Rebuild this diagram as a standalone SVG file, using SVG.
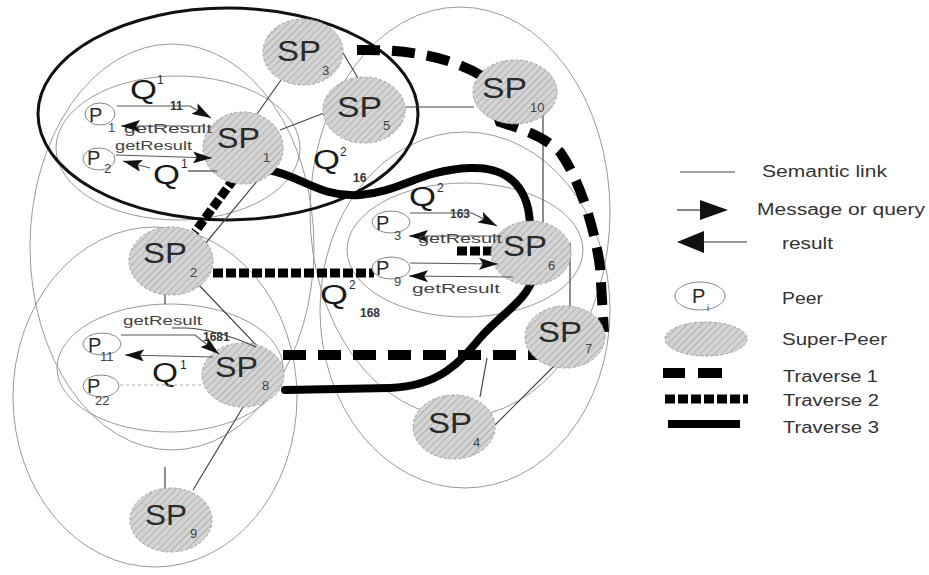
<svg xmlns="http://www.w3.org/2000/svg" width="929" height="575" viewBox="0 0 929 575">
  <defs>
    <pattern id="hatch" patternUnits="userSpaceOnUse" width="5" height="5" patternTransform="rotate(45)">
      <rect width="5" height="5" fill="#d4d4d4"/>
      <line x1="0" y1="0" x2="0" y2="5" stroke="#8c8c8c" stroke-width="1"/>
    </pattern>
    <marker id="head" viewBox="0 0 10 10" refX="10" refY="5" markerUnits="userSpaceOnUse" markerWidth="19" markerHeight="12" preserveAspectRatio="none" orient="auto">
      <path d="M0,0 L10,5 L0,10 L2,5 z" fill="#111"/>
    </marker>
  </defs>
  <style>
    .region { fill: none; stroke: #9a9a9a; stroke-width: 1; }
    .cluster { fill: none; stroke: #111; stroke-width: 3; }
    .link { stroke: #444; stroke-width: 1.2; fill: none; }
    .msg { stroke: #555; stroke-width: 1.1; fill: none; marker-end: url(#head); }
    .faint { stroke: #aaa; stroke-width: 1; fill: none; stroke-dasharray: 3 3; }
    .t1 { stroke: #000; stroke-width: 10; fill: none; stroke-dasharray: 23 12; }
    .t2 { stroke: #000; stroke-width: 9; fill: none; stroke-dasharray: 10 3; }
    .t3 { stroke: #000; stroke-width: 8; fill: none; stroke-linecap: round; }
    .sp { fill: url(#hatch); stroke: #a0a0a0; stroke-width: 1; stroke-dasharray: 3 2; }
    .peer { fill: #fff; stroke: #888; stroke-width: 1; }
    text { font-family: "Liberation Sans", Arial, sans-serif; fill: #2a2a2a; }
    .spl { font-size: 29px; }
    .sub { font-size: 13px; fill: #444; }
    .pl { font-size: 20px; }
    .q { font-size: 27px; fill: #1a1a1a; }
    .sup { font-size: 12px; }
    .res { font-size: 13px; fill: #444; }
    .num { font-size: 12px; font-weight: bold; fill: #333; }
    .leg { font-size: 16px; fill: #333; }
  </style>

  <!-- region boundaries -->
  <g id="regions">
    <ellipse class="region" cx="172" cy="247" rx="142" ry="203"/>
    <ellipse class="region" cx="155" cy="397" rx="142" ry="170"/>
    <ellipse class="region" cx="170" cy="368" rx="113" ry="64"/>
    <ellipse class="region" cx="178" cy="148" rx="122" ry="72"/>
    <ellipse class="region" cx="460" cy="212" rx="150" ry="205"/>
    <ellipse class="region" cx="465" cy="310" rx="145" ry="178"/>
    <ellipse class="region" cx="465" cy="250" rx="118" ry="67"/>
    <ellipse class="cluster" cx="228" cy="114" rx="190" ry="106"/>
  </g>

  <!-- connectors -->
  <g id="connectors">
    <!-- semantic links -->
    <line class="link" x1="281" y1="80" x2="257" y2="114"/>
    <line class="link" x1="337" y1="43" x2="358" y2="78"/>
    <line class="link" x1="280" y1="130" x2="324" y2="113"/>
    <line class="link" x1="405" y1="107" x2="474" y2="107"/>
    <line class="link" x1="543" y1="112" x2="543" y2="222"/>
    <line class="link" x1="570" y1="243" x2="570" y2="307"/>
    <line class="link" x1="555" y1="365" x2="495" y2="425"/>
    <line class="link" x1="487" y1="358" x2="480" y2="397"/>
    <line class="link" x1="258" y1="180" x2="200" y2="250"/>
    <line class="link" x1="197" y1="283" x2="258" y2="347"/>
    <line class="link" x1="165" y1="294" x2="165" y2="304"/>
    <line class="link" x1="243" y1="407" x2="193" y2="490"/>
    <line class="link" x1="165" y1="467" x2="165" y2="489"/>

    <!-- traverse 1 -->
    <path class="t1" d="M357 50 C400 49 450 55 485 78 L500 122 C525 130 545 137 560 152 C580 180 595 230 600 267 L604 332"/>
    <line class="t1" x1="283" y1="355" x2="540" y2="355"/>
    <!-- traverse 2 -->
    <line class="t2" x1="242" y1="168" x2="195" y2="232"/>
    <line class="t2" x1="213" y1="273" x2="374" y2="273"/>
    <line class="t2" x1="457" y1="251" x2="492" y2="251"/>
    <!-- traverse 3 -->
    <path class="t3" d="M268 170 C300 175 320 198 360 195 C400 192 420 170 470 168 C510 166 530 190 530 228"/>
    <path class="t3" d="M533 278 C527 300 500 315 480 338 C460 362 440 386 390 388 L285 390"/>
  </g>

  <!-- super-peers -->
  <g id="sp1"><ellipse class="sp" cx="243" cy="148" rx="40" ry="36"/><text class="spl" x="217" y="148" textLength="43" lengthAdjust="spacingAndGlyphs">SP</text><text class="sub" x="263" y="162">1</text></g>
  <g id="sp2"><ellipse class="sp" cx="171" cy="261" rx="42" ry="34"/><text class="spl" x="143" y="263" textLength="44" lengthAdjust="spacingAndGlyphs">SP</text><text class="sub" x="190" y="277">2</text></g>
  <g id="sp3"><ellipse class="sp" cx="303" cy="52" rx="40" ry="33"/><text class="spl" x="277" y="61" textLength="44" lengthAdjust="spacingAndGlyphs">SP</text><text class="sub" x="322" y="75">3</text></g>
  <g id="sp4"><ellipse class="sp" cx="454" cy="427" rx="41" ry="32"/><text class="spl" x="428" y="433" textLength="44" lengthAdjust="spacingAndGlyphs">SP</text><text class="sub" x="473" y="447">4</text></g>
  <g id="sp5"><ellipse class="sp" cx="364" cy="110" rx="41" ry="33"/><text class="spl" x="337" y="117" textLength="45" lengthAdjust="spacingAndGlyphs">SP</text><text class="sub" x="383" y="130">5</text></g>
  <g id="sp6"><ellipse class="sp" cx="531" cy="253" rx="40" ry="32"/><text class="spl" x="503" y="256" textLength="44" lengthAdjust="spacingAndGlyphs">SP</text><text class="sub" x="548" y="270">6</text></g>
  <g id="sp7"><ellipse class="sp" cx="565" cy="337" rx="40" ry="31"/><text class="spl" x="538" y="342" textLength="44" lengthAdjust="spacingAndGlyphs">SP</text><text class="sub" x="585" y="353">7</text></g>
  <g id="sp8"><ellipse class="sp" cx="243" cy="375" rx="41" ry="32"/><text class="spl" x="215" y="377" textLength="43" lengthAdjust="spacingAndGlyphs">SP</text><text class="sub" x="262" y="390">8</text></g>
  <g id="sp9"><ellipse class="sp" cx="171" cy="520" rx="41" ry="32"/><text class="spl" x="145" y="525" textLength="42" lengthAdjust="spacingAndGlyphs">SP</text><text class="sub" x="190" y="538">9</text></g>
  <g id="sp10"><ellipse class="sp" cx="515" cy="92" rx="42" ry="32"/><text class="spl" x="482" y="98" textLength="45" lengthAdjust="spacingAndGlyphs">SP</text><text class="sub" x="530" y="112">10</text></g>

  <!-- peers -->
  <g id="p1"><ellipse class="peer" cx="100" cy="114" rx="15" ry="11"/><text class="pl" x="89" y="122">P</text><text class="sub" x="108" y="132">1</text></g>
  <g id="p2"><ellipse class="peer" cx="99" cy="159" rx="16" ry="11"/><text class="pl" x="87" y="165">P</text><text class="sub" x="104" y="173">2</text></g>
  <g id="p11"><ellipse class="peer" cx="102" cy="344" rx="19" ry="11"/><text class="pl" x="88" y="352">P</text><text class="sub" x="100" y="361">11</text></g>
  <g id="p22"><ellipse class="peer" cx="101" cy="386" rx="18" ry="11"/><text class="pl" x="87" y="393">P</text><text class="sub" x="95" y="405">22</text></g>
  <g id="p3"><ellipse class="peer" cx="391" cy="222" rx="19" ry="11"/><text class="pl" x="376" y="230">P</text><text class="sub" x="394" y="240">3</text></g>
  <g id="p9"><ellipse class="peer" cx="391" cy="268" rx="19" ry="11"/><text class="pl" x="376" y="275">P</text><text class="sub" x="394" y="286">9</text></g>

  <!-- queries and results -->
  <g id="messages">
    <path class="msg" d="M117 106 L190 106 L211 118"/>
    <text class="num" x="170" y="110">11</text>
    <text class="res" x="124" y="133" textLength="88" lengthAdjust="spacingAndGlyphs">getResult</text>
    <path class="msg" d="M205 126 L121 126"/>
    <text class="res" x="115" y="150" textLength="77" lengthAdjust="spacingAndGlyphs">getResult</text>
    <path class="msg" d="M116 155 L212 158"/>
    <path class="link" d="M217 171 L188 171"/>
    <path class="msg" d="M150 168 L123 161"/>
    <text class="q" x="130" y="99" textLength="27" lengthAdjust="spacingAndGlyphs">Q</text><text class="sup" x="157" y="84">1</text>
    <text class="q" x="153" y="184" textLength="27" lengthAdjust="spacingAndGlyphs">Q</text><text class="sup" x="181" y="168">1</text>

    <text class="q" x="313" y="169" textLength="27" lengthAdjust="spacingAndGlyphs">Q</text><text class="sup" x="340" y="156">2</text>
    <text class="num" x="353" y="182">16</text>

    <text class="q" x="409" y="206" textLength="27" lengthAdjust="spacingAndGlyphs">Q</text><text class="sup" x="437" y="192">2</text>
    <text class="num" x="450" y="218">163</text>
    <path class="msg" d="M410 213 L472 213 L497 226"/>
    <path class="msg" d="M500 236 L409 236"/>
    <text class="res" x="418" y="243" textLength="84" lengthAdjust="spacingAndGlyphs">getResult</text>
    <path class="msg" d="M410 263 L498 264"/>
    <path class="msg" d="M513 277 L409 276"/>
    <text class="res" x="412" y="293" textLength="88" lengthAdjust="spacingAndGlyphs">getResult</text>
    <text class="q" x="320" y="304" textLength="28" lengthAdjust="spacingAndGlyphs">Q</text><text class="sup" x="349" y="289">2</text>
    <text class="num" x="360" y="317">168</text>

    <text class="res" x="123" y="325" textLength="79" lengthAdjust="spacingAndGlyphs">getResult</text>
    <path class="link" d="M256 347 C236 338 210 329 186 328 L172 328"/>
    <path class="msg" d="M121 335 L195 335 L219 354"/>
    <text class="num" x="203" y="341">1681</text>
    <path class="msg" d="M213 357 L125 355"/>
    <text class="q" x="152" y="382" textLength="26" lengthAdjust="spacingAndGlyphs">Q</text><text class="sup" x="180" y="369">1</text>
    <path class="faint" d="M120 385 L205 385"/>
  </g>

  <!-- legend -->
  <g id="legend">
    <line class="link" x1="680" y1="172" x2="735" y2="172"/>
    <text class="leg" x="762" y="177" textLength="125" lengthAdjust="spacingAndGlyphs">Semantic link</text>
    <line stroke="#333" stroke-width="1.2" x1="677" y1="210" x2="702" y2="210"/>
    <path d="M700 200 L728 210 L700 220 z" fill="#111"/>
    <text class="leg" x="757" y="215" textLength="168" lengthAdjust="spacingAndGlyphs">Message or query</text>
    <path d="M677 242 L704 231 L704 253 z" fill="#111"/>
    <line stroke="#333" stroke-width="1.2" x1="702" y1="242" x2="747" y2="242"/>
    <text class="leg" x="782" y="249" textLength="51" lengthAdjust="spacingAndGlyphs">result</text>
    <ellipse class="peer" cx="700" cy="296" rx="25" ry="14"/>
    <text class="pl" x="692" y="303">P</text><text font-size="9" x="707" y="311">i</text>
    <text class="leg" x="782" y="304" textLength="41" lengthAdjust="spacingAndGlyphs">Peer</text>
    <ellipse class="sp" cx="706" cy="339" rx="41" ry="17"/>
    <text class="leg" x="782" y="345" textLength="105" lengthAdjust="spacingAndGlyphs">Super-Peer</text>
    <rect x="663" y="368" width="22" height="10" fill="#000"/>
    <rect x="698" y="368" width="24" height="10" fill="#000"/>
    <text class="leg" x="783" y="382" textLength="95" lengthAdjust="spacingAndGlyphs">Traverse 1</text>
    <line class="t2" x1="665" y1="399" x2="748" y2="399" stroke-width="8" stroke-dasharray="14 3"/>
    <text class="leg" x="783" y="406" textLength="96" lengthAdjust="spacingAndGlyphs">Traverse 2</text>
    <rect x="668" y="420" width="72" height="8" fill="#000"/>
    <text class="leg" x="783" y="433" textLength="96" lengthAdjust="spacingAndGlyphs">Traverse 3</text>
  </g>
</svg>
